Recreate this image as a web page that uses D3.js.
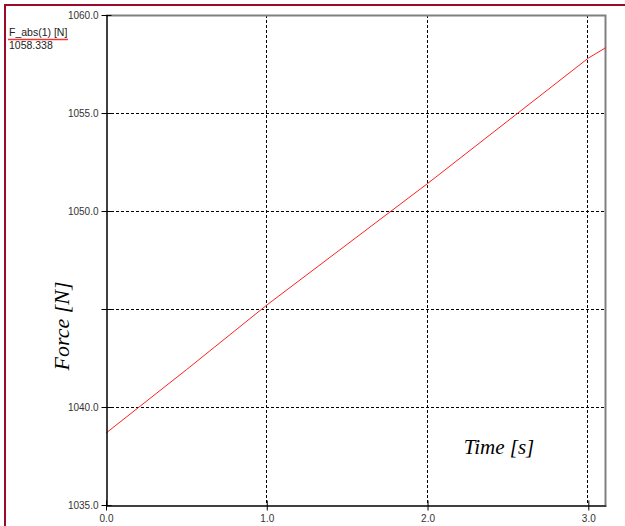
<!DOCTYPE html>
<html>
<head>
<meta charset="utf-8">
<script src="https://cdn.jsdelivr.net/npm/d3@7"></script>
<style>
  body { margin: 0; background: #fff; }
  svg { display: block; }
</style>
</head>
<body>
<div id="chart"></div>
<script>
var w = 625;
var h = 526;

// time [s] and force [N]
var timeVals = [0, 0.5, 1.0, 1.5, 2.0, 2.5, 3.0, 3.11];
var forceVals = [1038.67, 1041.9, 1045.2, 1048.3, 1051.4, 1054.6, 1057.8, 1058.34];
var xTicks = [0, 1, 2, 3];
var yTicks = [1035, 1040, 1045, 1050, 1055, 1060];
var yLabelled = [1035, 1040, 1050, 1055, 1060];
var legendName = 'F_abs(1) [N]';
var legendValue = '1058.338';

var margin = {left: 106, top: 15, right: 19, bottom: 21};

var svg = d3.select('#chart').append('svg')
  .attr('width', w)
  .attr('height', h);

// outer dark red frame (top + left)
svg.append('path')
  .attr('d', 'M5,' + h + ' V5 H' + w)
  .attr('fill', 'none')
  .attr('stroke', '#9b0a2a')
  .attr('stroke-width', 2);

var x = d3.scaleLinear().domain([0, 3.11]).range([margin.left, w - margin.right]);
var y = d3.scaleLinear().domain([1035, 1060]).range([h - margin.bottom, margin.top]);

// grid lines
svg.selectAll('.vgrid')
  .data(xTicks.filter(function(d) { return d > 0; }))
  .enter().append('line')
  .attr('x1', function(d) { return Math.round(x(d)) - 0.5; })
  .attr('x2', function(d) { return Math.round(x(d)) - 0.5; })
  .attr('y1', y(1060))
  .attr('y2', y(1035))
  .attr('stroke', '#000')
  .attr('stroke-dasharray', '3,2');

svg.selectAll('.hgrid')
  .data(yTicks.filter(function(d) { return d > 1035 && d < 1060; }))
  .enter().append('line')
  .attr('x1', x(0))
  .attr('x2', x(3.11))
  .attr('y1', function(d) { return Math.round(y(d)) + 0.5; })
  .attr('y2', function(d) { return Math.round(y(d)) + 0.5; })
  .attr('stroke', '#000')
  .attr('stroke-dasharray', '3,2');

// gray top and right border
svg.append('path')
  .attr('d', 'M' + x(0) + ',' + (y(1060) + 0.5) + ' H' + (x(3.11) - 0.5) + ' V' + y(1035))
  .attr('fill', 'none')
  .attr('stroke', '#808080')
  .attr('stroke-width', 2);

// the force line
var line = d3.line()
  .x(function(d, i) { return x(timeVals[i]); })
  .y(function(d) { return y(d); });

svg.append('path')
  .datum(forceVals)
  .attr('d', line)
  .attr('fill', 'none')
  .attr('stroke', '#ff2020')
  .attr('stroke-width', 1);

// axes
var xAxis = d3.axisBottom(x)
  .tickValues(xTicks)
  .tickFormat(d3.format('.1f'))
  .tickSizeInner(5)
  .tickSizeOuter(0);

var gx = svg.append('g')
  .attr('transform', 'translate(0,' + (y(1035) + 0.5) + ')')
  .call(xAxis);
gx.select('.domain').attr('stroke', '#000').attr('stroke-width', 1.5);
gx.selectAll('.tick line').attr('y1', -5).attr('y2', 5).attr('stroke', '#000');
gx.selectAll('.tick text')
  .attr('y', 9)
  .style('font-family', 'Liberation Sans, Arial, sans-serif')
  .style('font-size', '10px')
  .attr('fill', '#333');

var yAxis = d3.axisLeft(y)
  .tickValues(yTicks)
  .tickFormat(function(d) { return yLabelled.indexOf(d) >= 0 ? d3.format('.1f')(d) : ''; })
  .tickSizeInner(5)
  .tickSizeOuter(0);

var gy = svg.append('g')
  .attr('transform', 'translate(' + (x(0) + 0.5) + ',0)')
  .call(yAxis);
gy.select('.domain').attr('stroke', '#000').attr('stroke-width', 1.5);
gy.selectAll('.tick line').attr('x1', -5).attr('x2', 5).attr('stroke', '#000');
gy.selectAll('.tick text')
  .attr('x', -8)
  .style('font-family', 'Liberation Sans, Arial, sans-serif')
  .style('font-size', '10px')
  .attr('fill', '#333');

// axis titles
svg.append('text')
  .attr('transform', 'translate(69,' + 326 + ') rotate(-90)')
  .attr('text-anchor', 'middle')
  .style('font-family', 'Liberation Serif, Times New Roman, serif')
  .style('font-style', 'italic')
  .style('font-size', '22px')
  .text('Force [N]');

svg.append('text')
  .attr('x', 499)
  .attr('y', 454)
  .attr('text-anchor', 'middle')
  .style('font-family', 'Liberation Serif, Times New Roman, serif')
  .style('font-style', 'italic')
  .style('font-size', '21px')
  .text('Time [s]');

// legend
svg.append('text')
  .attr('x', 9)
  .attr('y', 36)
  .style('font-family', 'Liberation Sans, Arial, sans-serif')
  .style('font-size', '10.5px')
  .attr('fill', '#222')
  .text(legendName);

svg.append('line')
  .attr('x1', 8).attr('x2', 68)
  .attr('y1', 39.5).attr('y2', 39.5)
  .attr('stroke', '#ff3030')
  .attr('stroke-width', 1.5);

svg.append('text')
  .attr('x', 9)
  .attr('y', 49)
  .style('font-family', 'Liberation Sans, Arial, sans-serif')
  .style('font-size', '10.5px')
  .attr('fill', '#222')
  .text(legendValue);
</script>
</body>
</html>
